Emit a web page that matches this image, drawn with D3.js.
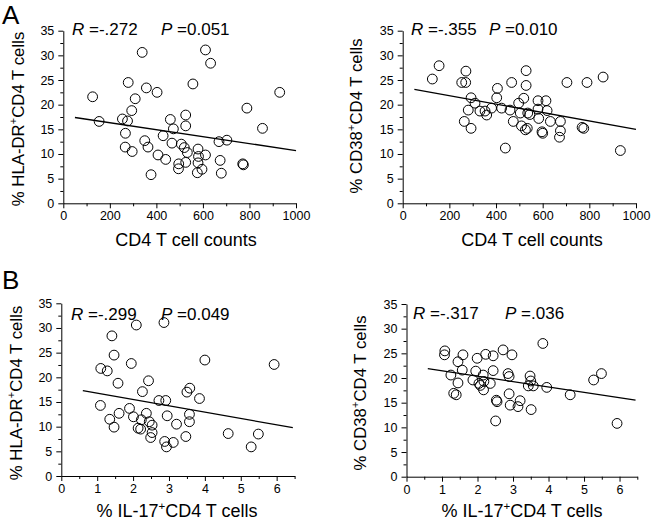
<!DOCTYPE html>
<html>
<head>
<meta charset="utf-8">
<script src="https://cdn.jsdelivr.net/npm/d3@7/dist/d3.min.js"></script>
<style>
  html, body { margin: 0; padding: 0; background: #fff; }
  svg { display: block; font-family: "Liberation Sans", Arial, sans-serif; }
</style>
</head>
<body>
<svg id="chart" width="652" height="523"></svg>
<script>
// ---------------- DATA ----------------
// Panel A left: CD4 T cell counts vs % HLA-DR+CD4 T cells
const cd4CountsHLA = [126,154,339,279,357,403,309,294,254,276,267,266,296,350,364,377,407,440,429,467,460,473,526,526,557,611,633,507,520,533,579,581,611,526,496,495,579,596,576,669,703,674,679,771,774,789,856,930];
const hlaDrA      = [21.6,16.6,30.6,24.5,23.4,22.5,21.2,18.8,17.1,16.7,14.2,11.4,10.5,12.7,11.4,5.8,9.8,8.9,13.7,12.2,17.0,15.1,17.9,15.7,24.2,31.1,28.4,12.0,11.3,10.3,11.0,9.5,9.8,8.3,8.0,7.0,8.2,6.9,6.2,12.5,12.8,8.7,6.1,8.0,7.8,19.3,15.2,22.5];

// Panel A right: CD4 T cell counts vs % CD38+CD4 T cells
const cd4CountsCD38 = [156,127,271,253,270,293,310,281,264,293,331,353,360,381,406,403,424,440,467,460,474,529,529,704,790,859,933,519,497,504,536,580,614,580,619,583,633,676,676,672,600,509,534,526,776,769,597,545];
const cd38A         = [27.9,25.2,26.8,24.5,24.5,21.4,20.3,18.9,16.6,15.2,18.7,18.7,17.9,19.3,23.3,21.4,19.3,11.2,24.5,18.9,16.6,26.9,23.9,24.5,24.5,25.6,10.7,21.3,20.3,18.3,18.3,20.8,20.8,19.1,18.8,17.2,16.6,16.6,14.7,13.4,14.2,15.7,15.2,14.9,15.2,15.4,14.5,18.0];

// Panel B left: % IL-17+CD4 T cells vs % HLA-DR+CD4 T cells
const il17HLA = [2.09,2.86,1.41,1.47,1.95,1.10,1.28,1.58,2.43,2.26,2.72,2.91,1.09,1.61,1.35,1.47,1.90,2.01,2.37,2.23,2.14,2.21,2.53,2.53,2.49,2.95,2.88,2.93,3.21,4.00,5.93,3.58,3.50,3.85,3.57,3.57,3.47,4.65,5.49,5.29,3.12,2.45];
const hlaDrB  = [30.6,31.1,28.4,24.5,22.8,21.8,21.3,18.8,19.3,17.1,15.3,15.3,14.3,12.7,11.5,9.9,13.7,12.0,12.7,11.4,9.7,9.5,10.3,8.8,7.8,12.2,7.0,5.9,10.5,23.5,22.6,17.8,17.0,15.7,12.5,11.0,8.0,8.6,8.5,5.9,6.8,11.0];

// Panel B right: % IL-17+CD4 T cells vs % CD38+CD4 T cells
const il17CD38 = [1.08,1.07,1.59,1.45,1.99,2.23,2.44,2.72,2.97,1.25,1.57,1.45,1.33,1.40,1.95,1.87,2.04,2.16,2.18,2.17,2.44,2.36,2.86,2.89,2.89,2.53,2.55,2.92,3.14,2.51,3.84,3.48,3.50,3.43,3.57,3.95,4.61,5.27,5.49,5.93,3.20,3.51,2.08];
const cd38B    = [25.5,24.7,24.7,23.3,24.0,24.8,24.5,25.7,24.7,20.6,21.6,19.0,16.9,16.6,21.4,19.6,18.9,20.6,19.3,17.6,21.5,18.9,20.9,20.3,16.8,15.5,15.2,14.5,14.2,11.3,27.0,20.4,19.4,18.4,18.4,18.1,16.6,19.6,20.9,10.8,15.4,13.6,18.5];

// Regression line end points
const fitHLAcounts  = [[50, 17.4], [1000, 10.7]];
const fitCD38counts = [[50, 23.1], [1000, 15.0]];
const fitHLAil17    = [[0.6, 17.3], [6.45, 9.8]];
const fitCD38il17   = [[0.6, 21.9], [6.45, 15.5]];

// Axis ticks
const yTicks       = [0, 5, 10, 15, 20, 25, 30, 35];
const yMinorTicks  = [2.5, 7.5, 12.5, 17.5, 22.5, 27.5, 32.5];
const countTicks   = [0, 200, 400, 600, 800, 1000];
const countMinor   = [100, 300, 500, 700, 900];
const il17Ticks    = [0, 1, 2, 3, 4, 5, 6];
const il17Minor    = [0.5, 1.5, 2.5, 3.5, 4.5, 5.5, 6.5];

// Statistics text
const rValues = ["-.272", "-.355", "-.299", "-.317"];
const pValues = ["0.051", "0.010", "0.049", ".036"];
const panelLetters = ["A", "B"];

// ---------------- DRAWING ----------------
const svg = d3.select("#chart");
const intFmt = d3.format("d");

function drawPanel(cfg) {
  const x = d3.scaleLinear().domain(cfg.xDomain).range([cfg.left, cfg.right]);
  const y = d3.scaleLinear().domain([0, 35]).range([cfg.bottom, cfg.top]);
  const g = svg.append("g");

  // minor ticks
  g.append("g").attr("transform", `translate(0,${cfg.bottom})`)
    .call(d3.axisBottom(x).tickValues(cfg.xMinor).tickSize(3).tickFormat(""))
    .call(s => s.select(".domain").remove());
  g.append("g").attr("transform", `translate(${cfg.left},0)`)
    .call(d3.axisLeft(y).tickValues(yMinorTicks).tickSize(3).tickFormat(""))
    .call(s => s.select(".domain").remove());

  // major axes
  const xa = g.append("g").attr("transform", `translate(0,${cfg.bottom})`)
    .call(d3.axisBottom(x).tickValues(cfg.xTicks).tickFormat(intFmt).tickSize(5).tickSizeOuter(0).tickPadding(3));
  const ya = g.append("g").attr("transform", `translate(${cfg.left},0)`)
    .call(d3.axisLeft(y).tickValues(yTicks).tickFormat(intFmt).tickSize(5).tickSizeOuter(0).tickPadding(4));
  [xa, ya].forEach(a => {
    a.selectAll("text").attr("font-size", 12.5).attr("font-family", "Liberation Sans, Arial, sans-serif").attr("fill", "#000");
    a.selectAll("line,path").attr("stroke", "#000").attr("stroke-width", 1);
  });
  g.selectAll(".tick line").attr("stroke", "#000");

  // regression line
  g.append("path")
    .attr("d", d3.line().x(d => x(d[0])).y(d => y(d[1]))(cfg.fit))
    .attr("fill", "none").attr("stroke", "#000").attr("stroke-width", 1.3);

  // points
  g.append("g").selectAll("circle")
    .data(d3.zip(cfg.xs, cfg.ys))
    .join("circle")
    .attr("cx", d => x(d[0])).attr("cy", d => y(d[1]))
    .attr("r", 4.9)
    .attr("fill", "none").attr("stroke", "#000").attr("stroke-width", 1);

  // x label
  const xl = g.append("text")
    .attr("x", cfg.xLabelX).attr("y", cfg.xLabelY)
    .attr("text-anchor", "middle").attr("font-size", 18);
  cfg.xLabel.forEach(part => {
    const t = xl.append("tspan").text(part.t);
    if (part.sup) t.attr("font-size", 11.5).attr("dy", -7);
    if (part.down) t.attr("dy", 7);
  });

  // y label
  const yl = g.append("text")
    .attr("transform", `translate(${cfg.yLabelX},${cfg.yLabelY}) rotate(-90)`)
    .attr("text-anchor", "middle").attr("font-size", 16.8);
  cfg.yLabel.forEach(part => {
    const t = yl.append("tspan").text(part.t);
    if (part.sup) t.attr("font-size", 11).attr("dy", -7);
    if (part.down) t.attr("dy", 7);
  });

  // stats
  const st = g.append("text").attr("font-size", 17).attr("y", cfg.statY);
  st.append("tspan").attr("x", cfg.rX).attr("font-style", "italic").text("R");
  st.append("tspan").text(" =" + cfg.r);
  st.append("tspan").attr("x", cfg.pX).attr("font-style", "italic").text("P");
  st.append("tspan").text(" =" + cfg.p);
}

const hlaLabel  = [{t: "% HLA-DR"}, {t: "+", sup: true}, {t: "CD4 T cells", down: true}];
const cd38Label = [{t: "% CD38"}, {t: "+", sup: true}, {t: "CD4 T cells", down: true}];
const countLabel = [{t: "CD4 T cell counts"}];
const il17Label = [{t: "% IL-17"}, {t: "+", sup: true}, {t: "CD4 T cells", down: true}];

drawPanel({
  xs: cd4CountsHLA, ys: hlaDrA, fit: fitHLAcounts,
  xDomain: [0, 1000], xTicks: countTicks, xMinor: countMinor,
  left: 63.3, right: 296, top: 30.7, bottom: 203.3,
  xLabel: countLabel, xLabelX: 186, xLabelY: 246,
  yLabel: hlaLabel, yLabelX: 24, yLabelY: 119,
  r: rValues[0], p: pValues[0], rX: 72, pX: 161, statY: 34.5
});
drawPanel({
  xs: cd4CountsCD38, ys: cd38A, fit: fitCD38counts,
  xDomain: [0, 1000], xTicks: countTicks, xMinor: countMinor,
  left: 402.7, right: 636, top: 30.7, bottom: 203.3,
  xLabel: countLabel, xLabelX: 532, xLabelY: 246,
  yLabel: cd38Label, yLabelX: 361.5, yLabelY: 116,
  r: rValues[1], p: pValues[1], rX: 411, pX: 489, statY: 34.5
});
drawPanel({
  xs: il17HLA, ys: hlaDrB, fit: fitHLAil17,
  xDomain: [0, 6.5], xTicks: il17Ticks, xMinor: il17Minor,
  left: 61.3, right: 294.6, top: 303.3, bottom: 476,
  xLabel: il17Label, xLabelX: 177, xLabelY: 517,
  yLabel: hlaLabel, yLabelX: 21.5, yLabelY: 393,
  r: rValues[2], p: pValues[2], rX: 71, pX: 161, statY: 320
});
drawPanel({
  xs: il17CD38, ys: cd38B, fit: fitCD38il17,
  xDomain: [0, 6.5], xTicks: il17Ticks, xMinor: il17Minor,
  left: 406.5, right: 637.3, top: 304, bottom: 476.7,
  xLabel: il17Label, xLabelX: 522, xLabelY: 517,
  yLabel: cd38Label, yLabelX: 366, yLabelY: 393,
  r: rValues[3], p: pValues[3], rX: 413, pX: 505, statY: 319
});

// panel letters
svg.append("text").attr("x", 2).attr("y", 24).attr("font-size", 26).text(panelLetters[0]);
svg.append("text").attr("x", 2).attr("y", 289).attr("font-size", 26).text(panelLetters[1]);
</script>
</body>
</html>
